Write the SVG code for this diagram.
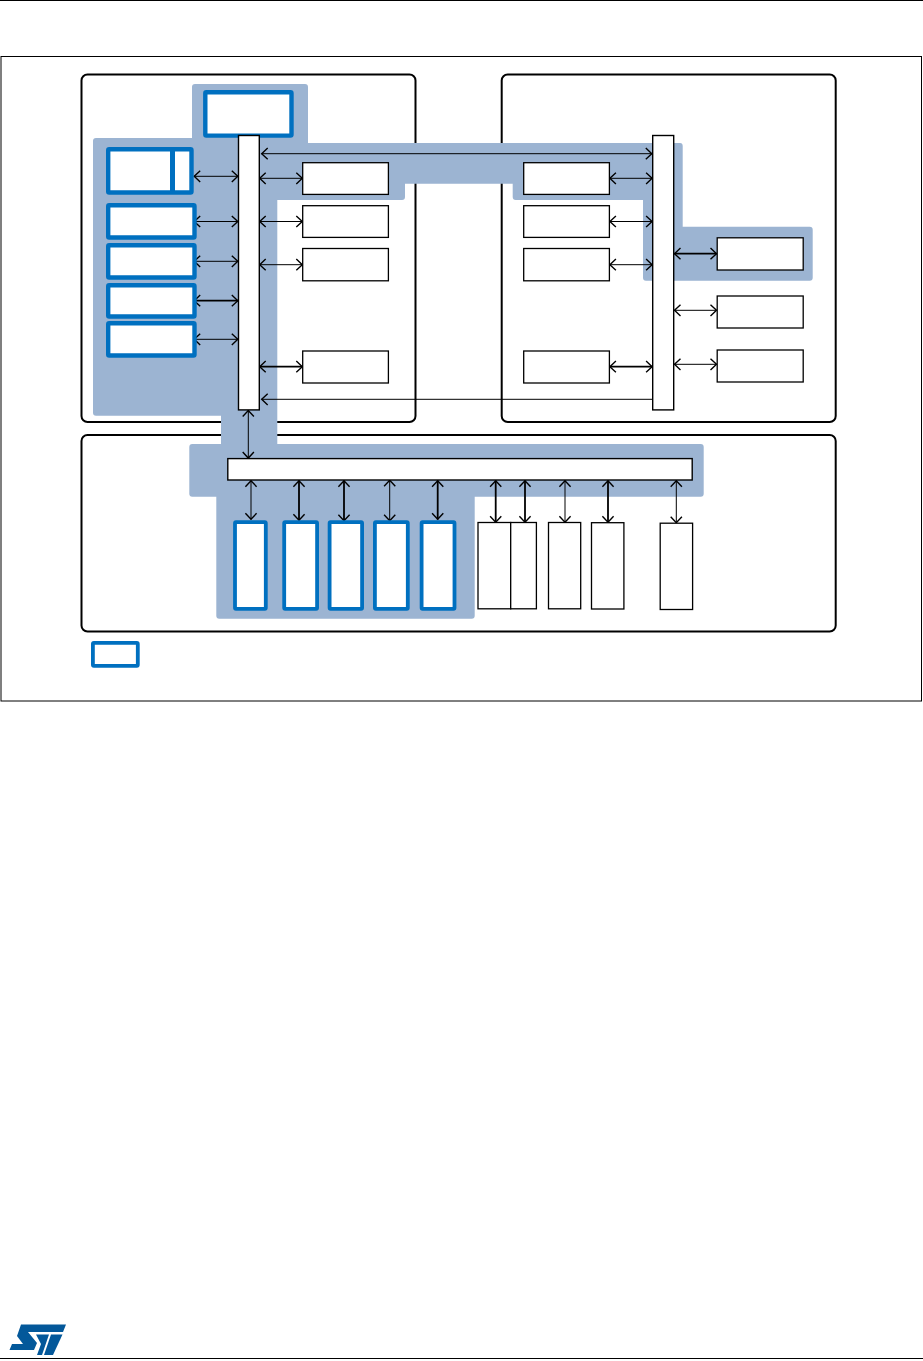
<svg xmlns="http://www.w3.org/2000/svg" width="923" height="1361" viewBox="0 0 923 1361">
<style>
.dom{fill:#fff;stroke:#000;stroke-width:2}
.hl{fill:#9cb4d2}
.bl{fill:#fff;stroke:#0070c0;stroke-width:4.4}
.blv{fill:#fff;stroke:#0070c0;stroke-width:3.8}
.bk{fill:#fff;stroke:#000;stroke-width:1.3}
.a{fill:none;stroke:#000;stroke-width:1;marker-start:url(#h);marker-end:url(#h)}
.t{fill:none;stroke:#000;stroke-width:1.8;marker-start:url(#h);marker-end:url(#h)}
.rule{stroke:#000;stroke-width:1.2}
.logo{fill:#03589a}
</style>
<defs>
<marker id="h" markerUnits="userSpaceOnUse" markerWidth="14" markerHeight="14" refX="7.5" refY="7" orient="auto-start-reverse" viewBox="0 0 14 14">
<path d="M1.3,1.4 L7.3,7 L1.3,12.6" fill="none" stroke="#000" stroke-width="1.4"/>
</marker>
</defs>
<rect width="923" height="1361" fill="#fff"/>
<line class="rule" x1="0" y1="0.5" x2="923" y2="0.5"/>
<rect x="1" y="56.5" width="920.5" height="644.5" fill="#fff" stroke="#000" stroke-width="1"/>
<rect class="dom" x="81.5" y="74.5" width="334" height="347.5" rx="6"/>
<rect class="dom" x="501.7" y="74.5" width="334" height="347.5" rx="6"/>
<rect class="dom" x="81.5" y="435" width="754.2" height="196.5" rx="6"/>
<path id="highlight" class="hl" d="M96,138 H192 V87 Q192,84 195,84 H305 Q308,84 308,87 V143 H680 Q682.7,143 682.7,146 V226.7 H809.7 Q812.7,226.7 812.7,229.7 V277.7 Q812.7,280.7 809.7,280.7 H646 Q643,280.7 643,277.7 V200 H515.7 Q512.7,200 512.7,197 V183.7 H405 V197 Q405,200 402,200 H277.3 V444 H700.7 Q703.7,444 703.7,447 V493.7 Q703.7,496.7 700.7,496.7 H474.7 V615.7 Q474.7,618.7 471.7,618.7 H219.3 Q216.3,618.7 216.3,615.7 V496.7 H192.3 Q189.3,496.7 189.3,493.7 V447 Q189.3,444 192.3,444 H221 V415.7 H96 Q93,415.7 93,412.7 V141 Q93,138 96,138 Z"/>
<g id="connectors">
<path class="a" d="M194,176.3H238"/>
<path class="a" d="M194,221.5H238"/>
<path class="a" d="M194,261.3H238"/>
<path class="t" d="M194,300.7H238"/>
<path class="a" d="M194,339.3H238"/>
<path class="a" d="M259.5,178.3H302.5"/>
<path class="a" d="M259.5,221.5H302.5"/>
<path class="a" d="M259.5,264.7H302.5"/>
<path class="t" d="M259.5,366.7H302.5"/>
<path class="a" d="M261.5,153.7H652"/>
<path d="M261.5,399.3H652" fill="none" stroke="#000" stroke-width="1" marker-start="url(#h)"/>
<path class="a" d="M609.7,178.3H652.3"/>
<path class="a" d="M609.7,221.5H652.3"/>
<path class="a" d="M609.7,264.7H652.3"/>
<path class="t" d="M609.7,366.7H652.3"/>
<path class="t" d="M674.3,253.7H716.7"/>
<path class="a" d="M674.3,310.3H716.7"/>
<path class="a" d="M674.3,364.3H716.7"/>
<path class="a" d="M248.3,410.3V458.3"/>
<path class="a" d="M251,480.5V519.5"/>
<path class="t" d="M299,480.5V520.5"/>
<path class="t" d="M344,480.5V521"/>
<path class="a" d="M389.7,480V521"/>
<path class="t" d="M437.7,480.5V519.5"/>
<path class="t" d="M495.7,480.5V522.5"/>
<path class="t" d="M525,480.5V522.5"/>
<path class="a" d="M565,480.5V522.5"/>
<path class="t" d="M608,480.5V522.5"/>
<path class="a" d="M676.3,480.5V523"/>
</g>
<g id="cpu"><rect class="bl" x="205.3" y="92.2" width="86.2" height="43.4" rx="1"/></g>
<g id="core-cache"><rect class="bl" x="108.2" y="149.2" width="83.3" height="43.3" rx="1"/><rect x="170" y="149" width="5" height="44" fill="#0070c0"/></g>
<g id="left-a"><rect class="bl" x="108.2" y="205.2" width="86.3" height="32.3" rx="1"/></g>
<g id="left-b"><rect class="bl" x="108.2" y="245.2" width="86.3" height="32.3" rx="1"/></g>
<g id="left-c"><rect class="bl" x="108.2" y="285.2" width="86.3" height="31.3" rx="1"/></g>
<g id="left-d"><rect class="bl" x="108.2" y="323.2" width="86.3" height="32.3" rx="1"/></g>
<g id="bus-left"><rect x="238.5" y="135.5" width="20.8" height="274.4" fill="#fff" stroke="#000" stroke-width="1.4"/></g>
<g id="bus-right"><rect x="652.7" y="135.5" width="21" height="274.4" fill="#fff" stroke="#000" stroke-width="1.4"/></g>
<g id="d1-1"><rect class="bk" x="302.7" y="162.7" width="85.7" height="31.7"/></g>
<g id="d1-2"><rect class="bk" x="302.7" y="205.7" width="85.7" height="31.7"/></g>
<g id="d1-3"><rect class="bk" x="302.7" y="248.5" width="85.7" height="32.3"/></g>
<g id="d1-4"><rect class="bk" x="302.7" y="351" width="85.7" height="32"/></g>
<g id="d2-1"><rect class="bk" x="523.7" y="162.7" width="85.7" height="31.7"/></g>
<g id="d2-2"><rect class="bk" x="523.7" y="205.7" width="85.7" height="31.7"/></g>
<g id="d2-3"><rect class="bk" x="523.7" y="248.5" width="85.7" height="32.3"/></g>
<g id="d2-4"><rect class="bk" x="523.7" y="351" width="85.7" height="32"/></g>
<g id="d2-5"><rect class="bk" x="717.2" y="237.8" width="86" height="32.2"/></g>
<g id="d2-6"><rect class="bk" x="717.2" y="296" width="86" height="32"/></g>
<g id="d2-7"><rect class="bk" x="717.2" y="350" width="86" height="32"/></g>
<g id="bus-bottom"><rect x="227.8" y="458.6" width="464.4" height="21.4" fill="#fff" stroke="#000" stroke-width="1.4"/></g>
<g id="mem-1"><rect class="blv" x="235" y="522.2" width="30.8" height="86.6" rx="1"/></g>
<g id="mem-2"><rect class="blv" x="284.2" y="522.2" width="32.9" height="86.6" rx="1"/></g>
<g id="mem-3"><rect class="blv" x="329.6" y="522.2" width="32.5" height="86.6" rx="1"/></g>
<g id="mem-4"><rect class="blv" x="374.9" y="522.2" width="32.9" height="86.6" rx="1"/></g>
<g id="mem-5"><rect class="blv" x="421.6" y="522.2" width="32.9" height="86.6" rx="1"/></g>
<g id="p-1"><rect class="bk" x="478" y="522.5" width="32.7" height="86.3"/></g>
<g id="p-2"><rect class="bk" x="510.7" y="522.5" width="25.7" height="86.3"/></g>
<g id="p-3"><rect class="bk" x="548.5" y="522.5" width="32.2" height="86.3"/></g>
<g id="p-4"><rect class="bk" x="591.5" y="522.7" width="32.4" height="86.3"/></g>
<g id="p-5"><rect class="bk" x="660.2" y="523.2" width="32.4" height="86.3"/></g>
<g id="legend"><rect class="blv" x="92.9" y="642.9" width="44.9" height="22.9" rx="1"/></g>
<g id="logo">
<path class="logo" d="M21,1324.5 H66 L63,1332 H28 L37,1343 L34,1350 H9.5 L12,1344 H23 L17,1336 Z"/>
<path class="logo" d="M36,1334.5 H49 L42,1355 H37 L41,1344 Z"/>
<path class="logo" d="M51,1334.5 H62.5 L53,1355 H44 Z"/>
</g>
<line class="rule" x1="0" y1="1358.5" x2="923" y2="1358.5"/>
</svg>
